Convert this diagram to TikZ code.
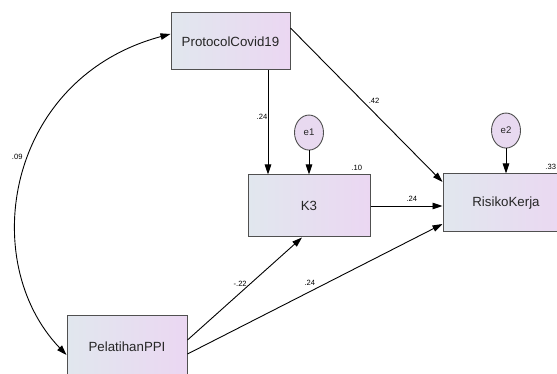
\documentclass[tikz,border=0pt]{standalone}
\usepackage{fontspec}
\setmainfont{Liberation Sans}
\usetikzlibrary{arrows.meta,positioning,shapes.geometric}
\definecolor{boxleft}{HTML}{E1E7EE}
\definecolor{boxright}{HTML}{EBD7F2}
\definecolor{errfill}{HTML}{E8D9F0}
\definecolor{framegray}{HTML}{505050}
\tikzset{
  var/.style={draw=framegray,line width=1pt,left color=boxleft,right color=boxright,
    inner sep=0pt,font=\fontsize{13.3}{15}\selectfont,text=black!85},
  err/.style={ellipse,draw=framegray,line width=0.9pt,fill=errfill,minimum width=29pt,
    minimum height=35pt,inner sep=0pt,font=\fontsize{9.6}{11}\selectfont,text=black!85},
  coef/.style={font=\fontsize{7.6}{9}\selectfont,inner sep=0pt,text=black},
}

\begin{document}
\begin{tikzpicture}[x=1pt,y=-1pt,>={Triangle[length=10pt,width=6.5pt]},line width=0.9pt]
\path[use as bounding box] (0,0) rectangle (557,374);
\clip (0,0) rectangle (557,374);
%%First place the nodes
\node[var,minimum width=119pt,minimum height=57pt] (pc) at (230.5,41.5) {ProtocolCovid19};
\node[var,minimum width=122pt,minimum height=62pt] (k3) at (309,206) {K3};
\node[var,minimum width=126pt,minimum height=58pt] (rk) at (506,203) {RisikoKerja};
\node[var,minimum width=120pt,minimum height=64pt] (ppi) at (127,347) {PelatihanPPI};
\node[err] (e1) [above=24pt of k3] {e1};
\node[err] (e2) [above=25pt of rk] {e2};
%%Squared multiple correlations
\node[coef,anchor=south east] (r2k3) at ([xshift=-8pt,yshift=3pt]k3.north east) {.10};
\node[coef,anchor=south east] (r2rk) at ([xshift=-13pt,yshift=3pt]rk.north east) {.33};
%%Draw the paths
\path[->]
(e1) edge (k3)
(e2) edge (rk)
([xshift=37.5pt]pc.south) edge node[coef,pos=0.45,xshift=-6pt] {.24} ([xshift=37.5pt]pc.south |- k3.north)
([yshift=13.5pt]pc.east) edge node[coef,pos=0.55,yshift=11.5pt] {.42} ([yshift=21pt]rk.west)
(k3.east) edge node[coef,pos=0.575,yshift=7pt] {.24} (k3.east -| rk.west)
([yshift=7pt]ppi.east) edge node[coef,pos=0.46,yshift=9.5pt] {-.22} ([xshift=-7pt]k3.south)
([yshift=-7pt]ppi.east) edge node[coef,pos=0.48,yshift=9pt] {.24} ([yshift=-21pt]rk.west);
%%Draw the covariance
\draw[<->] ([yshift=7.5pt]pc.west) .. controls +(-164,44) and +(-90,-94) ..
  node[coef,pos=0.45,xshift=-12pt] {.09} ([yshift=-8pt]ppi.west);
\end{tikzpicture}
\end{document}
